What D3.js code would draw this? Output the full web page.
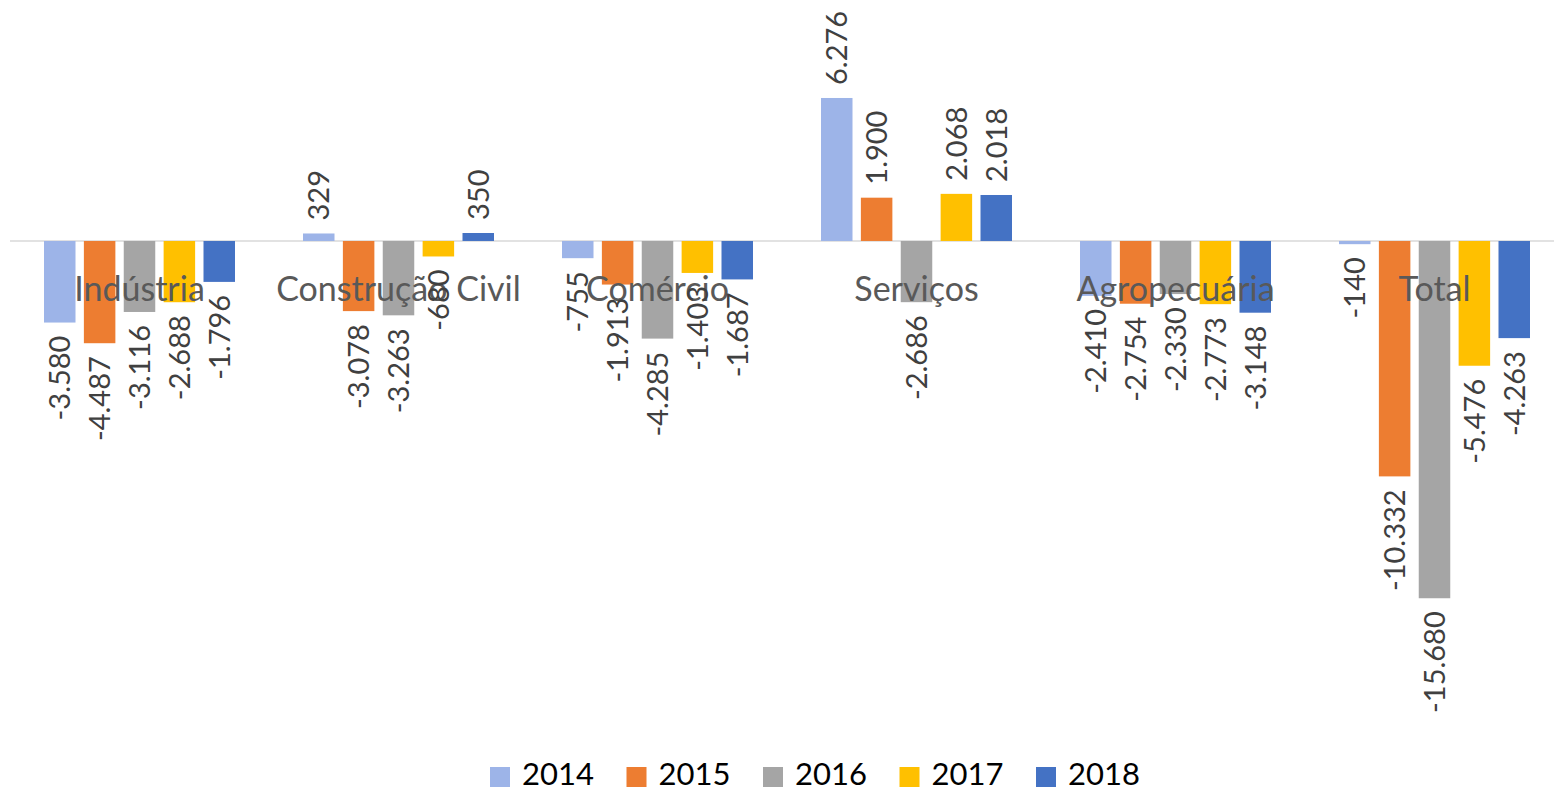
<!DOCTYPE html>
<html lang="pt-BR">
<head>
<meta charset="utf-8">
<script src="https://cdn.jsdelivr.net/npm/d3@7"></script>
<style>
  html, body { margin: 0; padding: 0; background: #ffffff; }
  svg { display: block; }
  text { font-family: Lato, "Open Sans", sans-serif; }
</style>
</head>
<body>
<svg id="chart" width="1554" height="791"></svg>
<script>
// Saldo de empregos por setor, 2014–2018
const categories = ["Indústria", "Construção Civil", "Comércio", "Serviços", "Agropecuária", "Total"];
const years = ["2014", "2015", "2016", "2017", "2018"];

const values2014 = [-3580, 329, -755, 6276, -2410, -140];
const values2015 = [-4487, -3078, -1913, 1900, -2754, -10332];
const values2016 = [-3116, -3263, -4285, -2686, -2330, -15680];
const values2017 = [-2688, -680, -1403, 2068, -2773, -5476];
const values2018 = [-1796, 350, -1687, 2018, -3148, -4263];

const seriesValues = [values2014, values2015, values2016, values2017, values2018];
const colors = ["#9DB4E8", "#ED7D31", "#A5A5A5", "#FFC000", "#4472C4"];

const svg = d3.select("#chart");

const fmt = d3.formatLocale({
  decimal: ",", thousands: ".", grouping: [3], currency: ["R$", ""], minus: "-"
}).format(",d");

// Scales
const x0 = d3.scaleBand().domain(categories).range([10, 1564]).padding(0);
const groupSpan = 191;
const x1 = d3.scaleBand().domain(years)
  .range([x0.bandwidth() / 2 - groupSpan / 2, x0.bandwidth() / 2 + groupSpan / 2])
  .paddingInner(0.21).paddingOuter(0);
const y = d3.scaleLinear().domain([-18000, 8000]).range([651.1, 58.7]);

const rows = [];
years.forEach((yr, s) => {
  categories.forEach((c, i) => {
    rows.push({ year: yr, cat: c, value: seriesValues[s][i], color: colors[s] });
  });
});

// Zero line
svg.append("line")
  .attr("x1", 10).attr("x2", 1554)
  .attr("y1", y(0)).attr("y2", y(0))
  .attr("stroke", "#D9D9D9").attr("stroke-width", 1.5);

// Bars
svg.append("g").selectAll("rect")
  .data(rows).join("rect")
  .attr("x", d => x0(d.cat) + x1(d.year))
  .attr("width", x1.bandwidth())
  .attr("y", d => Math.min(y(d.value), y(0)))
  .attr("height", d => Math.abs(y(d.value) - y(0)))
  .attr("fill", d => d.color);

// Category labels, drawn at the zero line level over the bars
svg.append("g").selectAll("text")
  .data(categories).join("text")
  .attr("x", d => x0(d) + x0.bandwidth() / 2)
  .attr("y", 301)
  .attr("text-anchor", "middle")
  .attr("font-size", 34)
  .attr("fill", "#595959")
  .text(d => d);

// Value labels, rotated, outside the bar end
const gap = 13;
svg.append("g").selectAll("text")
  .data(rows).join("text")
  .attr("transform", d => {
    const cx = x0(d.cat) + x1(d.year) + x1.bandwidth() / 2;
    const cy = d.value >= 0 ? y(d.value) - gap : y(d.value) + gap;
    return `translate(${cx},${cy}) rotate(-90)`;
  })
  .attr("text-anchor", d => d.value >= 0 ? "start" : "end")
  .attr("dy", "0.36em")
  .attr("font-size", 29)
  .attr("fill", "#404040")
  .text(d => fmt(d.value));

// Legend
const legend = svg.append("g").selectAll("g")
  .data(years).join("g")
  .attr("transform", (d, i) => `translate(${490 + i * 136.5},0)`);
legend.append("rect")
  .attr("x", 0).attr("y", 767).attr("width", 20).attr("height", 20)
  .attr("fill", (d, i) => colors[i]);
legend.append("text")
  .attr("x", 32).attr("y", 785)
  .attr("font-size", 31)
  .attr("fill", "#000000")
  .text(d => d);
</script>
</body>
</html>
